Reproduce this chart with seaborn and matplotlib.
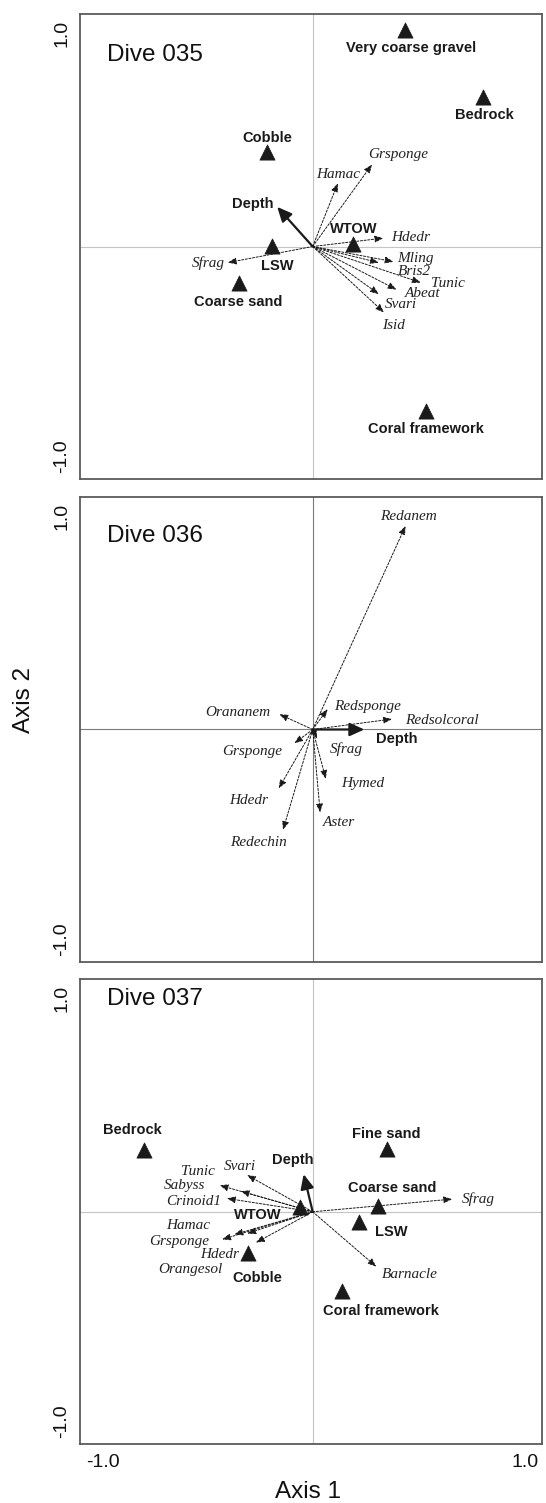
import seaborn as sns
import matplotlib.pyplot as plt
import pandas as pd

# ---- data ----
dives = ["Dive 035", "Dive 036", "Dive 037"]

# Dive 035
d035_site_names = ["Very coarse gravel", "Bedrock", "Cobble", "WTOW", "LSW", "Coarse sand", "Coral framework"]
d035_site_x = [0.408, 0.751, -0.202, 0.180, -0.179, -0.324, 0.500]
d035_site_y = [0.954, 0.661, 0.418, 0.013, 0.003, -0.162, -0.724]
d035_spp_names = ["Grsponge", "Hamac", "Hdedr", "Sfrag", "Mling", "Bris2", "Tunic", "Abeat", "Svari", "Isid"]
d035_spp_x = [0.262, 0.111, 0.312, -0.375, 0.357, 0.292, 0.477, 0.370, 0.292, 0.315]
d035_spp_y = [0.362, 0.279, 0.037, -0.071, -0.067, -0.071, -0.159, -0.190, -0.210, -0.291]
d035_depth = [-0.157, 0.175]

# Dive 036
d036_site_names = []
d036_site_x = []
d036_site_y = []
d036_spp_names = ["Redanem", "Redsponge", "Redsolcoral", "Orananem", "Grsponge", "Sfrag", "Hymed", "Aster", "Hdedr", "Redechin"]
d036_spp_x = [0.410, 0.066, 0.350, -0.147, -0.081, 0.020, 0.058, 0.033, -0.150, -0.131]
d036_spp_y = [0.898, 0.090, 0.046, 0.067, -0.061, -0.040, -0.218, -0.366, -0.260, -0.443]
d036_depth = [0.228, 0.0]

# Dive 037
d037_site_names = ["Bedrock", "Fine sand", "Coarse sand", "LSW", "WTOW", "Cobble", "Coral framework"]
d037_site_x = [-0.747, 0.329, 0.289, 0.203, -0.057, -0.288, 0.128]
d037_site_y = [0.272, 0.275, 0.025, -0.044, 0.022, -0.184, -0.350]
d037_spp_names = ["Sfrag", "Barnacle", "Svari", "Tunic", "Sabyss", "Crinoid1", "Grsponge", "Hamac", "Orangesol", "Hdedr"]
d037_spp_x = [0.616, 0.281, -0.290, -0.318, -0.411, -0.379, -0.400, -0.346, -0.289, -0.251]
d037_spp_y = [0.056, -0.242, 0.162, 0.091, 0.117, 0.059, -0.122, -0.100, -0.096, -0.136]
d037_depth = [-0.040, 0.166]

# ---- label placement (pixel offsets from the point / arrow tip) ----
d035_site_off = [(6, -18), (2, -18), (0, 14), (0, 15), (5, -20), (-1, -19), (0, -18)]
d035_spp_off = [(26, 10), (0, 9), (27, 1), (-19, -1), (22, 3), (36, -9), (27, -1), (26, -4), (22, -10), (10, -13)]
d035_depth_off = (-24, 3)
d036_site_off = []
d036_spp_off = [(3, 10), (40, 3), (50, -1), (-42, 2), (-42, -8), (29, -11), (37, -5), (19, -10), (-30, -12), (-25, -13)]
d036_depth_off = (32, -10)
d037_site_off = [(-11, 20), (-1, 15), (14, 18), (33, -10), (-42, -8), (10, -25), (39, -20)]
d037_spp_off = [(26, 0), (33, -8), (-7, 9), (-43, 20), (-35, 0), (-33, -3), (-43, -2), (-46, 9), (-57, -36), (-36, -12)]
d037_depth_off = (-11, 14)

panels = [
    (d035_site_names, d035_site_x, d035_site_y, d035_spp_names, d035_spp_x, d035_spp_y, d035_depth,
     d035_site_off, d035_spp_off, d035_depth_off, "#c4c4c4", 0.847),
    (d036_site_names, d036_site_x, d036_site_y, d036_spp_names, d036_spp_x, d036_spp_y, d036_depth,
     d036_site_off, d036_spp_off, d036_depth_off, "#7a7a7a", 0.854),
    (d037_site_names, d037_site_x, d037_site_y, d037_spp_names, d037_spp_x, d037_spp_y, d037_depth,
     d037_site_off, d037_spp_off, d037_depth_off, "#c4c4c4", 0.937),
]

sns.set_style("white")
plt.rcParams["font.family"] = ["Liberation Sans", "DejaVu Sans"]

fig = plt.figure(figsize=(5.46, 15.03), dpi=100)
bottoms = [0.6813, 0.35995, 0.03906]
ink = "#1a1a1a"

for i, (sn, sx, sy, pn, px, py, dep, soff, poff, doff, cross, ty) in enumerate(panels):
    ax = fig.add_axes([0.14652, bottoms[i], 0.84615, 0.30938])
    ax.set_xlim(-1.028, 1.013)
    ax.set_ylim(-1.026, 1.026)

    ax.axhline(0, color=cross, lw=0.8, zorder=0)
    ax.axvline(0, color=cross, lw=0.8, zorder=0)

    # species arrows (dashed)
    for name, x, y, off in zip(pn, px, py, poff):
        ax.annotate("", xy=(x, y), xytext=(0, 0),
                    arrowprops=dict(arrowstyle="-|>,head_length=0.5,head_width=0.2",
                                    linestyle=(0, (2.2, 1.6)), lw=0.7, color=ink,
                                    shrinkA=0, shrinkB=0, mutation_scale=10), zorder=2)
        ax.annotate(name, xy=(x, y), xytext=off, textcoords="offset pixels",
                    ha="center", va="center", fontsize=11, style="italic",
                    family=["Liberation Serif", "DejaVu Serif"], color="#222222", zorder=4)

    # depth vector (solid)
    ax.annotate("", xy=(dep[0], dep[1]), xytext=(0, 0),
                arrowprops=dict(arrowstyle="-|>,head_length=0.55,head_width=0.25",
                                lw=1.6, color=ink, shrinkA=0, shrinkB=0, mutation_scale=16), zorder=3)
    ax.annotate("Depth", xy=(dep[0], dep[1]), xytext=doff, textcoords="offset pixels",
                ha="center", va="center", fontsize=10.5, fontweight="bold", color=ink, zorder=4)

    # substrate / water mass centroids
    if sn:
        df = pd.DataFrame({"x": sx, "y": sy})
        sns.scatterplot(data=df, x="x", y="y", marker="^", s=120, color=ink,
                        edgecolor=ink, linewidth=0.5, ax=ax, zorder=5)
        for name, x, y, off in zip(sn, sx, sy, soff):
            ax.annotate(name, xy=(x, y), xytext=off, textcoords="offset pixels",
                        ha="center", va="center", fontsize=10.5, fontweight="bold",
                        color=ink, zorder=6)

    ax.text(-0.907, ty, dives[i], ha="left", va="center", fontsize=17.5, color="#111111")

    # axes styling
    for sp in ax.spines.values():
        sp.set_color("#5a5a5a")
        sp.set_linewidth(1.3)
    ax.set_xlabel("")
    ax.set_ylabel("")
    ax.set_xticks([-1, -0.5, 0, 0.5, 1])
    ax.set_yticks([-1, -0.5, 0, 0.5, 1])
    ax.set_yticklabels(["-1.0", "", "", "", "1.0"], rotation=90)
    yl = ax.get_yticklabels()
    yl[0].set_va("bottom")
    yl[-1].set_va("top")
    if i == 2:
        ax.set_xticklabels(["-1.0", "", "", "", "1.0"])
        xl = ax.get_xticklabels()
        xl[0].set_ha("left")
        xl[-1].set_ha("right")
    else:
        ax.set_xticklabels([])
    ax.tick_params(axis="both", direction="out", length=3, width=0.8, color="#5a5a5a",
                   labelsize=14, labelcolor="#111111", pad=4)

fig.text(24.5 / 546, 1 - 700 / 1503, "Axis 2", rotation=90, ha="center", va="center",
         fontsize=17.5, color="#111111")
fig.text(308 / 546, 1 - 1492 / 1503, "Axis 1", ha="center", va="center",
         fontsize=17.5, color="#111111")

fig.savefig("out.png", dpi=100)
